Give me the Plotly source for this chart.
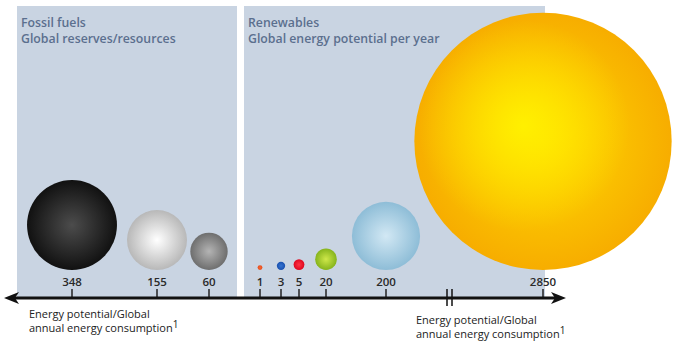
import math
import plotly.graph_objects as go

# ---- data ----
fossil_labels = ["348", "155", "60"]
fossil_values = [348, 155, 60]
renew_labels = ["1", "3", "5", "20", "200", "2850"]
renew_values = [1, 3, 5, 20, 200, 2850]

# ---- schematic layout (canvas units = pixels) ----
W, H = 680, 350
fossil_slots = [72, 157, 209]
renew_slots = [260, 281, 299, 326, 386, 543]
BASE = 270          # bubbles rest on this line
AXIS_Y = 298
K = 2.41            # radius = K * sqrt(value): bubble area proportional to value

# (centre colour, rim colour) for each sphere
fossil_fill = [("#4c4c4c", "#111111"), ("#ffffff", "#b8b8b8"), ("#b4b4b4", "#6e6e6e")]
renew_fill = [("#f46a30", "#e84a1c"), ("#3474d2", "#1a50ae"), ("#ff3444", "#de0820"),
              ("#cfe84a", "#86b41c"), ("#d2e8f4", "#8ebdd7"), ("#ffdc00", "#f7ad00")]
SUN_GLOW = ("#fff000", "rgba(255,232,0,0)")   # soft highlight on the largest sphere

PANEL = "#c9d4e2"
TITLE = "#5b6f8e"
FONT = "Open Sans, Noto Sans, sans-serif"

fig = go.Figure()

shapes = [
    dict(type="rect", x0=17, x1=237, y0=6, y1=AXIS_Y, fillcolor=PANEL, line_width=0, layer="below"),
    dict(type="rect", x0=244, x1=545, y0=6, y1=AXIS_Y, fillcolor=PANEL, line_width=0, layer="below"),
]


def sphere(x, y, r, c_in, c_out):
    # plotly's radial gradient runs from gradient.color (centre) to marker.color (rim)
    fig.add_trace(go.Scatter(
        x=[x], y=[y], mode="markers", hoverinfo="skip",
        marker=dict(size=2 * r, color=c_out, line_width=0,
                    gradient=dict(type="radial", color=c_in)),
    ))


def add_bubbles(values, slots, fills, labels):
    for v, x, (c_in, c_out) in zip(values, slots, fills):
        r = K * math.sqrt(v)
        sphere(x, BASE - r, r, c_in, c_out)
        shapes.append(dict(type="line", x0=x, x1=x, y0=289, y1=AXIS_Y,
                           line=dict(color="#222222", width=1.5)))
    fig.add_trace(go.Scatter(
        x=slots, y=[283] * len(slots), mode="text", text=labels, hoverinfo="skip",
        textfont=dict(family=FONT, size=11.5, color="#2a2a2a", weight=600),
    ))


add_bubbles(fossil_values, fossil_slots, fossil_fill, fossil_labels)
add_bubbles(renew_values, renew_slots, renew_fill, renew_labels)

# highlight slightly up-left of the sun's centre
r_sun = K * math.sqrt(renew_values[-1])
sphere(renew_slots[-1] - 0.15 * r_sun, BASE - r_sun - 0.12 * r_sun, 0.82 * r_sun, *SUN_GLOW)

# double-headed axis with a scale break
shapes += [
    dict(type="line", x0=14, x1=556, y0=AXIS_Y, y1=AXIS_Y, line=dict(color="#111111", width=3)),
    dict(type="path", path=f"M 4 {AXIS_Y} L 19 {AXIS_Y-6} L 15 {AXIS_Y} L 19 {AXIS_Y+6} Z",
         fillcolor="#111111", line_width=0),
    dict(type="path", path=f"M 566 {AXIS_Y} L 551 {AXIS_Y-6} L 555 {AXIS_Y} L 551 {AXIS_Y+6} Z",
         fillcolor="#111111", line_width=0),
    dict(type="line", x0=447, x1=447, y0=289, y1=306, line=dict(color="#111111", width=1.5)),
    dict(type="line", x0=452, x1=452, y0=289, y1=306, line=dict(color="#111111", width=1.5)),
]

annotations = []


def text(x, y, s, size, color, weight=400):
    annotations.append(dict(x=x, y=y, text=s, showarrow=False, xanchor="left", yanchor="top",
                            align="left",
                            font=dict(family=FONT, size=size, color=color, weight=weight)))


text(19, 12, "Fossil fuels<br>Global reserves/resources", 12.3, TITLE, 600)
text(246, 12, "Renewables<br>Global energy potential per year", 12.3, TITLE, 600)

caption = ("Energy potential/Global<br>annual energy consumption"
           "<sup><span style='font-size:10px'>1</span></sup>")
text(27, 304, caption, 11, "#222222")
text(414, 310, caption, 11, "#222222")

fig.update_layout(
    width=W, height=H, margin=dict(l=0, r=0, t=0, b=0),
    paper_bgcolor="white", plot_bgcolor="white", showlegend=False,
    xaxis=dict(range=[0, W], visible=False, fixedrange=True),
    yaxis=dict(range=[H, 0], visible=False, fixedrange=True),
    shapes=shapes, annotations=annotations,
)

fig.write_html("out.html")
